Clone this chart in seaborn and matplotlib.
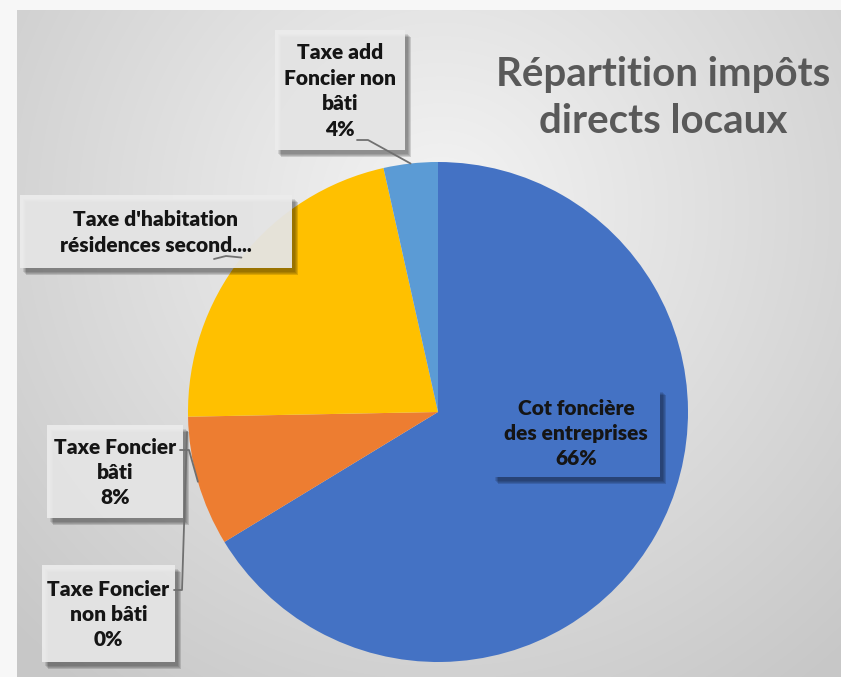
import numpy as np
import matplotlib
matplotlib.use("Agg")
import matplotlib.pyplot as plt
import seaborn as sns
from matplotlib.patches import Rectangle

sns.set_theme(style="white")
plt.rcParams['font.family'] = ['Lato', 'DejaVu Sans']

# ---- data ----
categories = ["Cot foncière des entreprises", "Taxe Foncier non bâti", "Taxe Foncier bâti",
              "Taxe d'habitation résidences secondaires", "Taxe add Foncier non bâti"]
values = [66.3, 0.0, 8.4, 21.8, 3.5]
label_texts = ["Cot foncière\ndes entreprises\n66%", "Taxe Foncier\nnon bâti\n0%",
               "Taxe Foncier\nbâti\n8%", "Taxe d'habitation\nrésidences second....",
               "Taxe add\nFoncier non\nbâti\n4%"]
title = "Répartition impôts\ndirects locaux"
colors = ["#4472C4", "#A5A5A5", "#ED7D31", "#FFC000", "#5B9BD5"]

W, H = 841, 677
fig = plt.figure(figsize=(W / 100, H / 100), dpi=100)
fig.patch.set_facecolor("#f7f7f7")

# background panel with soft gradient
bg = fig.add_axes([17 / W, 0, 1 - 17 / W, (H - 10) / H])
bg.set_axis_off()
yy, xx = np.mgrid[0:H - 10, 17:W]
d = np.sqrt((xx - 440) ** 2 + ((yy + 10) - 210) ** 2)
v = 244 - 44 * np.clip(d / 590, 0, 1)
img = np.dstack([v, v, v]) / 255.0
bg.imshow(img, aspect="auto", extent=[0, 1, 0, 1], zorder=0)
bg.set_xlim(0, 1); bg.set_ylim(0, 1)

# overlay in pixel coordinates
ov = fig.add_axes([0, 0, 1, 1], zorder=3)
ov.set_xlim(0, W); ov.set_ylim(H, 0)
ov.set_axis_off()
ov.patch.set_alpha(0)

# pie
cx, cy, r = 438, 412, 250
pie_ax = fig.add_axes([(cx - r) / W, (H - cy - r) / H, 2 * r / W, 2 * r / H], zorder=2)
wedges, _ = pie_ax.pie(values, colors=colors, startangle=90, counterclock=False,
                       wedgeprops=dict(linewidth=0), radius=1.0)
pie_ax.set_xlim(-1, 1); pie_ax.set_ylim(-1, 1)
pie_ax.set_aspect("auto")
pie_ax.set_axis_off()


def edge_point(i, frac=0.5, rad=1.0):
    w = wedges[i]
    ang = np.deg2rad(w.theta1 + frac * (w.theta2 - w.theta1))
    disp = pie_ax.transData.transform((rad * np.cos(ang), rad * np.sin(ang)))
    return ov.transData.inverted().transform(disp)


def box(x0, y0, x1, y1, face, alpha=1.0):
    for k, a in enumerate([0.10, 0.10, 0.12, 0.14]):
        off = 2 + k
        ov.add_patch(Rectangle((x0 + off + 1, y0 + off + 2), x1 - x0, y1 - y0,
                               facecolor="black", edgecolor="none", alpha=a, zorder=4))
    ov.add_patch(Rectangle((x0, y0), x1 - x0, y1 - y0, facecolor=face,
                           edgecolor="none", alpha=alpha, zorder=5))


lc = "#707070"
# boxes (x0, y0, x1, y1) in pixels
boxes = {
    4: (275, 30, 405, 150),
    3: (20, 195, 292, 268),
    2: (47, 425, 183, 518),
    1: (42, 565, 175, 662),
    0: (492, 388, 660, 477),
}
for i, (x0, y0, x1, y1) in boxes.items():
    face = colors[0] if i == 0 else "#ececec"
    box(x0, y0, x1, y1, face, alpha=1.0 if i == 0 else 0.92)
    ov.text((x0 + x1) / 2, (y0 + y1) / 2 + 1, label_texts[i], ha="center", va="center",
            fontsize=15, fontweight="heavy", color="#151515", linespacing=1.4, zorder=6)

# leader lines
p = edge_point(4)
ov.plot([357, 368, p[0]], [140, 140, p[1]], color=lc, lw=1.3, zorder=6)
p = edge_point(3)
ov.plot([214, 226, p[0]], [259, 256, p[1]], color=lc, lw=1.3, zorder=6)
p = edge_point(2)
ov.plot([180, 189, p[0]], [450, 450, p[1]], color=lc, lw=1.3, zorder=6)
ov.plot([174, 182, 187], [590, 590, 432], color=lc, lw=1.3, zorder=6)

# title
ov.text(663, 98, title, ha="center", va="center", fontsize=29, fontweight="bold",
        color="#595959", linespacing=1.32, zorder=6)

fig.savefig("out.png", dpi=100, facecolor=fig.get_facecolor())
